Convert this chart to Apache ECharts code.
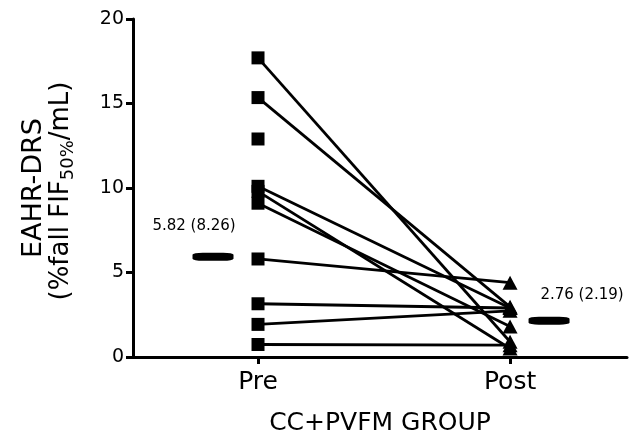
<!DOCTYPE html>
<html>
<head>
<meta charset="utf-8">
<script src="https://cdn.jsdelivr.net/npm/echarts@6/dist/echarts.min.js"></script>
<style>
html,body{margin:0;padding:0;background:#fff;}
#chart{width:635px;height:436px;}
</style>
</head>
<body>
<div id="chart"></div>
<script>
// ---- data ----
const categories = ['Pre', 'Post'];
const yTicks = [0, 5, 10, 15, 20];
const preValues  = [17.7, 15.35, 10.1, 9.8, 9.1, 5.8, 3.15, 1.93, 0.74];
const postValues = [0.9, 2.97, 2.9, 0.5, 1.8, 4.4, 2.9, 2.73, 0.7];
const preUnpaired = [12.9];
const summaryValues = [5.93, 2.15];
const summaryLabels = ['5.82 (8.26)', '2.76 (2.19)'];
const xTitle = 'CC+PVFM GROUP';
const yTitle1 = 'EAHR-DRS';

// ---- build ----
const FONT = 'DejaVu Sans';
const series = [];
preValues.forEach((v, i) => {
  series.push({
    type: 'line', data: [[0, v], [1, postValues[i]]],
    symbol: 'none', lineStyle: { color: '#000', width: 2.8, opacity: 1 }, z: 2, silent: true
  });
});
series.push({
  type: 'scatter', name: 'pre',
  data: preValues.concat(preUnpaired).map(v => [0, v]),
  symbol: 'rect', symbolSize: 13, itemStyle: { color: '#000', opacity: 1 }, z: 5
});
series.push({
  type: 'scatter', name: 'post',
  data: postValues.map(v => [1, v]),
  symbol: 'triangle', symbolSize: [15, 14], itemStyle: { color: '#000', opacity: 1 }, z: 5
});
const dashOffsets = [[-45, 0], [39, 0]];
const labelOffsets = [[-19, -31], [33, -26]];
series.push({
  type: 'scatter', name: 'summary',
  data: summaryValues.map((v, i) => ({
    value: [i, v],
    symbolOffset: dashOffsets[i],
    label: { show: true, formatter: summaryLabels[i], position: 'inside', offset: labelOffsets[i] }
  })),
  symbol: 'roundRect', symbolSize: [41, 8],
  itemStyle: { color: '#000', opacity: 1, borderWidth: 0 },
  label: { color: '#000', fontSize: 15, fontFamily: FONT, opacity: 1 },
  z: 5
});

const chart = echarts.init(document.getElementById('chart'), null, { renderer: 'canvas' });
chart.setOption({
  animation: false,
  backgroundColor: '#fff',
  grid: { left: 133, right: 8, top: 19, bottom: 79, outerBoundsMode: 'none', containLabel: false },
  xAxis: {
    type: 'value', min: -0.496, max: 1.464,
    name: xTitle, nameLocation: 'middle', nameGap: 54,
    nameTextStyle: { color: '#000', fontSize: 25, fontFamily: FONT },
    axisLine: { onZero: false, lineStyle: { color: '#000', width: 3 } },
    axisTick: { show: true, customValues: [0, 1], length: 7, lineStyle: { color: '#000', width: 3 } },
    axisLabel: {
      customValues: [0, 1], margin: 13,
      formatter: v => categories[Math.round(v)],
      color: '#000', fontSize: 25, fontFamily: FONT
    },
    splitLine: { show: false }
  },
  yAxis: {
    type: 'value', min: yTicks[0], max: yTicks[yTicks.length - 1], interval: yTicks[1] - yTicks[0],
    axisLine: { show: true, onZero: false, lineStyle: { color: '#000', width: 3 } },
    axisTick: { show: true, length: 7, lineStyle: { color: '#000', width: 3 } },
    axisLabel: { color: '#000', fontSize: 19, fontFamily: FONT, margin: 9 },
    splitLine: { show: false }
  },
  graphic: [
    {
      type: 'text', x: 34, y: 188, rotation: Math.PI / 2,
      style: { text: yTitle1, fill: '#000', font: '27px "DejaVu Sans"', align: 'center', verticalAlign: 'middle' }
    },
    {
      type: 'text', x: 61, y: 191, rotation: Math.PI / 2,
      style: {
        text: '{m|(%fall FIF}{s|50%}{m|/mL)}', align: 'center', verticalAlign: 'middle',
        rich: {
          m: { fontSize: 26, fontFamily: FONT, fill: '#000' },
          s: { fontSize: 18, fontFamily: FONT, fill: '#000', padding: [14, 0, 0, 0] }
        }
      }
    }
  ],
  series: series
});
</script>
</body>
</html>
